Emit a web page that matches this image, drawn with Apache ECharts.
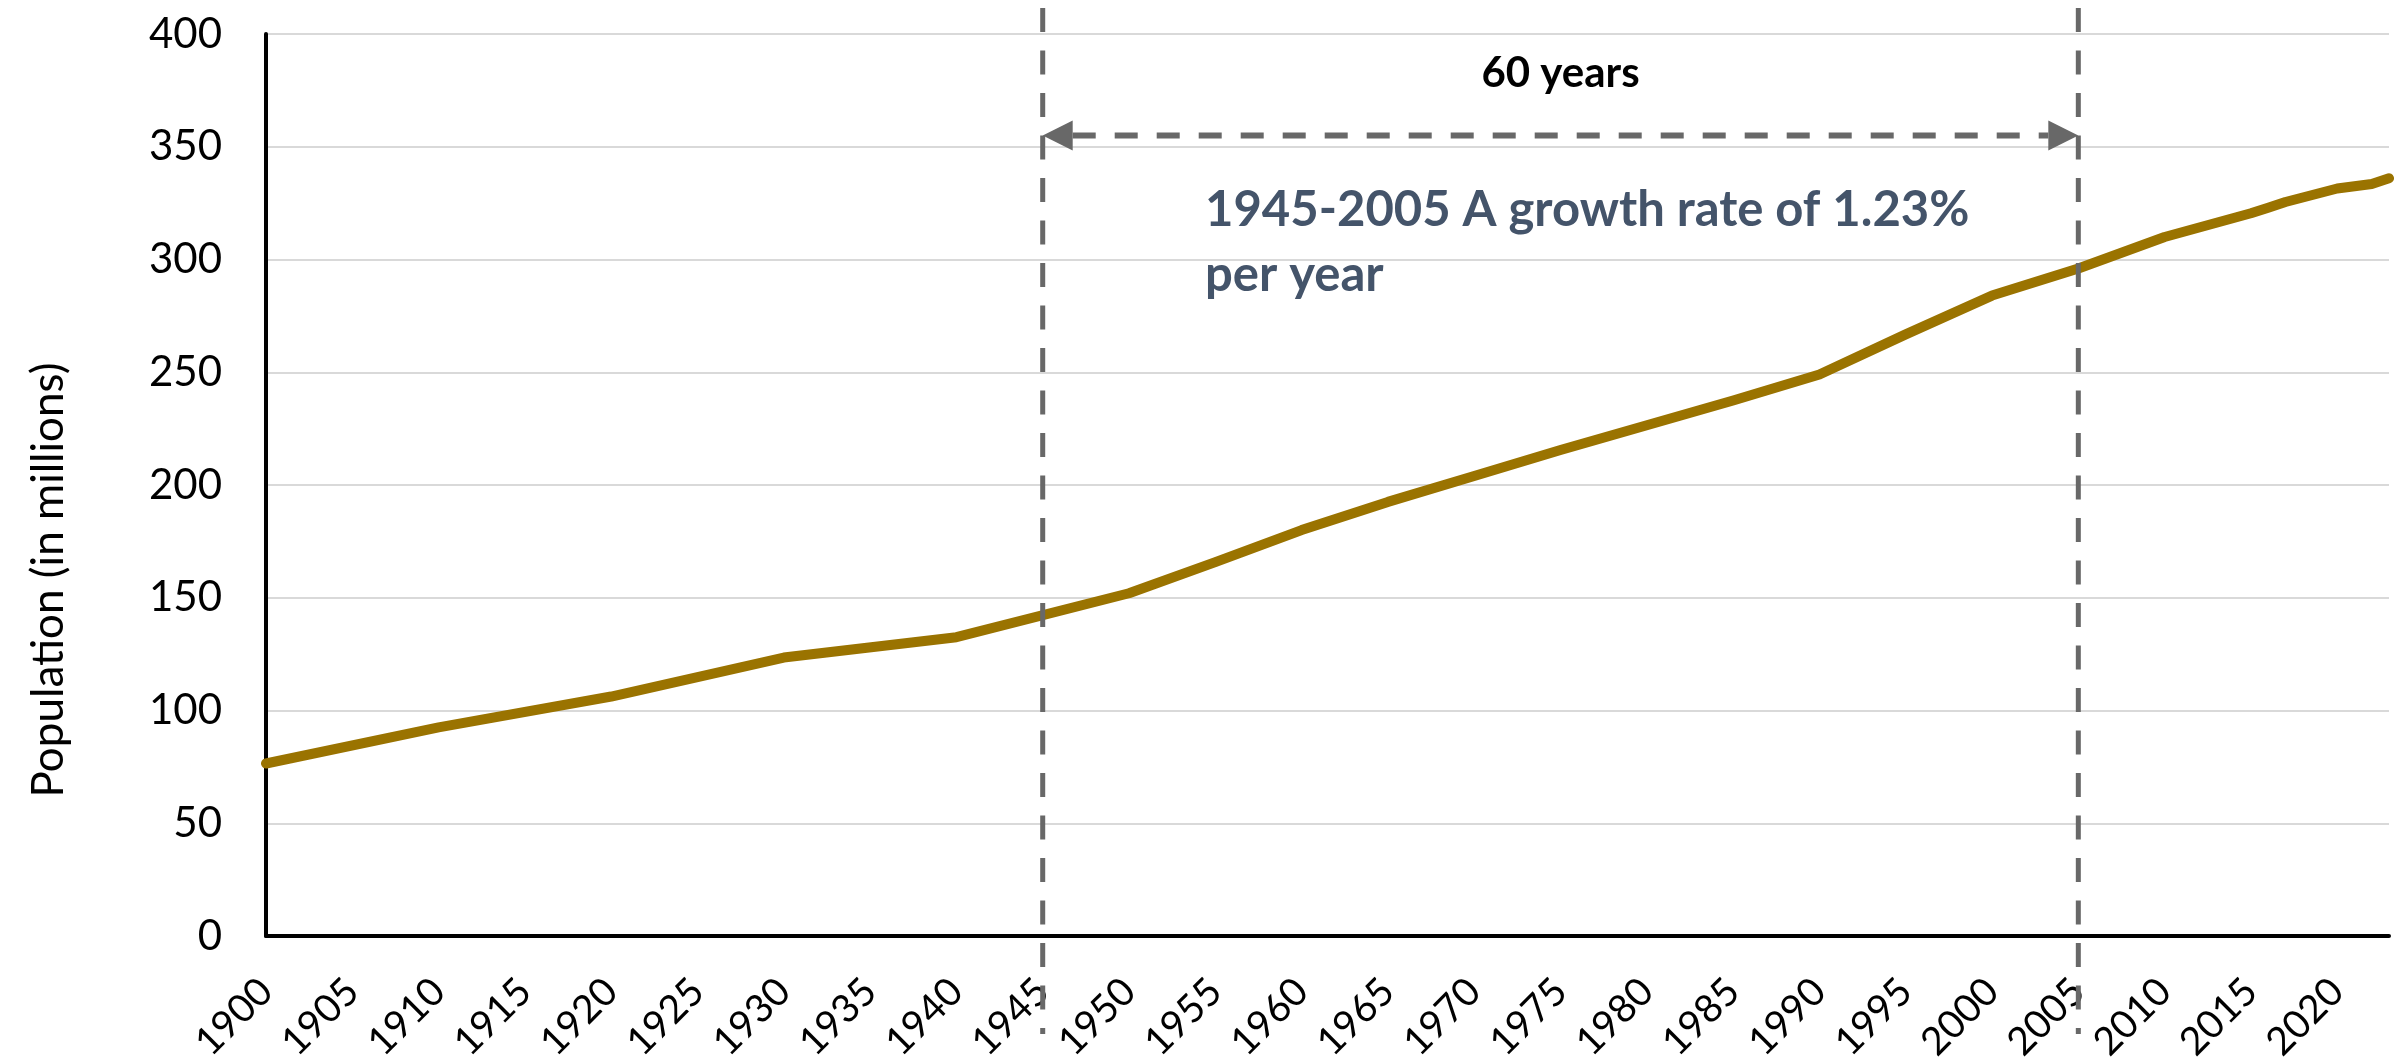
<!DOCTYPE html>
<html>
<head>
<meta charset="utf-8">
<title>Population 1900-2023</title>
<script src="https://cdn.jsdelivr.net/npm/echarts@6.0.0/dist/echarts.min.js"></script>
<style>
  html, body { margin: 0; padding: 0; background: #fff; }
  #chart { width: 2407px; height: 1057px; }
</style>
</head>
<body>
<div id="chart"></div>
<script>
// years where the line bends, with population (millions)
const years = [1900, 1910, 1920, 1930, 1940, 1950, 1955, 1960, 1965, 1970, 1975, 1980, 1985, 1990,
  1995, 2000, 2005, 2010, 2015, 2016, 2017, 2018, 2019, 2020, 2021, 2022, 2023];
const population = [76.5, 92.5, 106.2, 123.5, 132.5, 152, 165.8, 180, 192.5, 204, 215.5, 226.5, 237.5, 249,
  266.8, 284, 296, 310, 320.5, 323, 325.5, 327.5, 329.5, 331.5, 332.5, 333.5, 336];

// axes
const yTicks = [0, 50, 100, 150, 200, 250, 300, 350, 400];
const xRange = [1900, 2023];
const xStep = 5;

// highlighted period
const period = [1945, 2005];
const arrowLevel = 355;
const spanLabel = '60 years';
const rateLines = ['1945-2005 A growth rate of 1.23%', 'per year'];
const yTitle = 'Population (in millions)';

const font = 'Lato, "Open Sans", sans-serif';
const dashColor = '#686868';

const chart = echarts.init(document.getElementById('chart'));

const options = {
  animation: false,
  grid: { left: 266, right: 18, top: 34, bottom: 121, outerBoundsMode: 'none', containLabel: false },
  xAxis: {
    type: 'value',
    min: xRange[0],
    max: xRange[1],
    interval: xStep,
    axisLine: { show: true, onZero: false, lineStyle: { color: '#000', width: 4 } },
    axisTick: { show: false },
    splitLine: { show: false },
    axisLabel: {
      rotate: 45,
      margin: 49,
      fontSize: 39,
      color: '#000',
      fontFamily: font,
      showMaxLabel: false,
      formatter: (v) => String(v)
    }
  },
  yAxis: {
    type: 'value',
    min: yTicks[0],
    max: yTicks[yTicks.length - 1],
    interval: yTicks[1] - yTicks[0],
    axisLine: { show: true, lineStyle: { color: '#000', width: 4 } },
    axisTick: { show: false },
    splitLine: { lineStyle: { color: '#d9d9d9', width: 2 } },
    axisLabel: { margin: 44, fontSize: 42, color: '#000', fontFamily: font }
  },
  series: [
    {
      type: 'line',
      data: years.map((y, i) => [y, population[i]]),
      symbol: 'none',
      clip: false,
      silent: true,
      lineStyle: { color: '#9a7300', width: 10, cap: 'round', join: 'round' }
    }
  ]
};

chart.setOption(options);

// annotation positions come from the axes
const xa = chart.convertToPixel({ xAxisIndex: 0 }, period[0]);
const xb = chart.convertToPixel({ xAxisIndex: 0 }, period[1]);
const ya = chart.convertToPixel({ yAxisIndex: 0 }, arrowLevel);
const head = 30;

function vline(x) {
  return {
    type: 'line', z: 10, silent: true,
    shape: { x1: x, y1: 8, x2: x, y2: 1034 },
    style: { stroke: dashColor, lineWidth: 5, lineDash: [24, 18.5] }
  };
}

function text(x, y, str, weight, size, color, align) {
  return {
    type: 'text', z: 11, x: x, y: y, silent: true,
    style: {
      text: str, fill: color,
      font: weight + ' ' + size + 'px ' + font,
      align: align, verticalAlign: 'middle',
      textAlign: align, textVerticalAlign: 'middle'
    }
  };
}

chart.setOption({
  graphic: [
    vline(xa),
    vline(xb),
    {
      type: 'line', z: 10, silent: true,
      shape: { x1: xa + head, y1: ya, x2: xb - head, y2: ya },
      style: { stroke: dashColor, lineWidth: 6, lineDash: [23, 19] }
    },
    {
      type: 'polygon', z: 10, silent: true,
      shape: { points: [[xa, ya], [xa + head, ya - head / 2], [xa + head, ya + head / 2]] },
      style: { fill: dashColor }
    },
    {
      type: 'polygon', z: 10, silent: true,
      shape: { points: [[xb, ya], [xb - head, ya - head / 2], [xb - head, ya + head / 2]] },
      style: { fill: dashColor }
    },
    text((xa + xb) / 2, 73, spanLabel, 'bold', 42, '#000', 'center'),
    text(1205, 210, rateLines[0], 'bold', 49, '#44546a', 'left'),
    text(1205, 275, rateLines[1], 'bold', 49, '#44546a', 'left'),
    Object.assign(text(49, 580, yTitle, 'normal', 44, '#000', 'center'), { rotation: Math.PI / 2 })
  ]
});
</script>
</body>
</html>
